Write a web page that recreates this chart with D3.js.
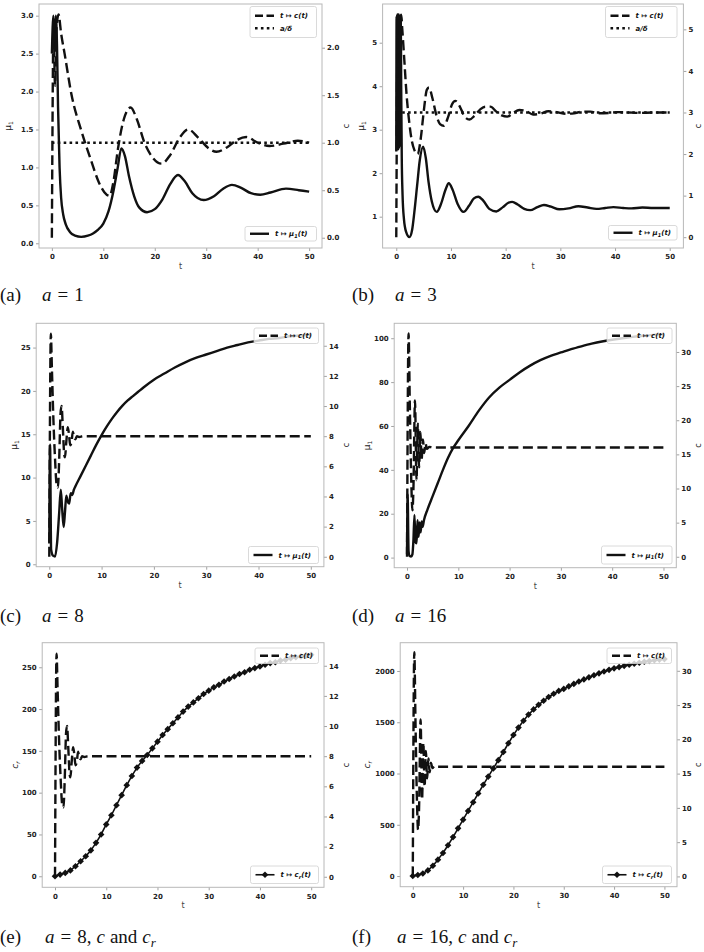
<!DOCTYPE html>
<html>
<head>
<meta charset="utf-8">
<script src="https://cdn.jsdelivr.net/npm/d3@7"></script>
<style>
  body { margin: 0; background: #fff; }
  svg { display: block; }
</style>
</head>
<body>
<svg id="fig" width="704" height="952"></svg>
<script>
// ---- values ----
const xTicks = [0, 10, 20, 30, 40, 50];
const tRatio = [0, 50];

// (a) a = 1
const tMuA = [0,0.3,0.55,0.75,1.0,1.2,1.5,1.8,2.2,2.7,3.5,4.5,5.7,7,8,9,10,11,12,12.8,13.5,14.2,15,16,17,18.5,20,21.5,23,24.5,25.8,27.3,29.5,31.5,33.3,35,36.8,38.7,40.5,42.5,45.5,48,50];
const muA  = [2.5,3.0,2.55,3.0,2.6,1.8,1.0,0.6,0.38,0.25,0.15,0.1,0.085,0.1,0.13,0.18,0.26,0.42,0.7,1.0,1.25,1.15,0.88,0.62,0.47,0.41,0.45,0.58,0.78,0.9,0.82,0.66,0.57,0.62,0.72,0.77,0.73,0.66,0.64,0.67,0.72,0.70,0.68];
const tCA  = [0,0.35,0.6,0.9,1.3,1.8,2.5,3.8,5.7,7.65,9,10.2,11.2,12,12.8,14,15.3,16.5,18,19.5,21.3,23,24.8,26.5,28.5,30.5,32,34,36,37.8,40,42.3,45,47.8,50];
const cA   = [0,2.3,1.6,2.2,2.35,2.15,1.93,1.51,1.13,0.81,0.6,0.48,0.44,0.6,0.92,1.25,1.37,1.25,1.0,0.85,0.78,0.87,1.05,1.14,1.05,0.94,0.905,0.95,1.03,1.06,1.0,0.965,0.99,1.02,1.0];
const ratioA = [1, 1];

// (b) a = 3
const tMuB = [0,0.06,0.12,0.18,0.25,0.32,0.4,0.48,0.56,0.64,0.72,0.82,0.9,1.0,1.15,1.4,1.8,2.4,2.9,3.3,3.8,4.3,4.9,5.4,5.9,6.5,7.4,8.2,9,9.6,10.3,11.2,12.3,13.3,14.2,15,15.9,17,18.3,19.5,20.5,21.2,22.2,23.4,24.5,25.8,27,28.3,29.8,31.5,33.3,35,36.6,38.2,39.7,41.5,43,45,47,50];
const muB  = [2.5,5.6,2.6,5.65,2.55,5.65,2.55,5.65,2.6,5.6,2.7,5.6,4.0,2.4,1.5,0.95,0.65,0.53,0.7,1.1,1.7,2.3,2.61,2.35,1.8,1.35,1.11,1.3,1.62,1.77,1.62,1.3,1.11,1.25,1.42,1.46,1.37,1.18,1.12,1.22,1.32,1.34,1.28,1.18,1.15,1.22,1.27,1.23,1.17,1.19,1.24,1.21,1.18,1.2,1.22,1.2,1.19,1.21,1.2,1.2];
const tCB  = [0,0.3,0.6,0.9,1.1,1.5,1.9,2.3,2.8,3.3,3.9,4.5,5.0,5.6,6.0,6.6,7.3,8.0,8.7,9.5,10.2,10.8,11.6,12.5,13.4,14.3,15.4,16.3,17.2,18.3,19.3,20.3,21.3,22.5,23.7,25,26.3,27.8,29.3,31,32.5,34,35.5,37,39,40.5,42.5,44.5,47,50];
const cB   = [0,5.35,5.2,5.35,5.0,4.2,3.4,2.85,2.35,2.1,2.0,2.4,3.0,3.55,3.6,3.35,2.95,2.72,2.68,2.9,3.2,3.28,3.15,2.9,2.83,2.92,3.08,3.14,3.14,3.02,2.93,2.9,2.98,3.06,3.04,2.95,2.97,3.03,3.01,2.97,2.98,3.02,3.02,2.98,2.99,3.01,3.0,2.99,3.0,3.0];
const ratioB = [3, 3];

// c(t) for a = 8, shared by (c) and (e)
const tC8 = [0,0.3,0.5,0.8,1.1,1.4,1.65,1.9,2.15,2.35,2.6,2.85,3.0,3.25,3.55,3.8,4.0,4.25,4.5,4.75,5.0,5.3,5.7,6.5,50];
const c8  = [0,14.8,12.5,9,6.5,4.8,4.6,6.5,9.5,10.0,8.5,6.8,6.6,7.6,8.6,8.0,7.4,7.6,8.3,7.9,7.8,8.0,7.95,8.0,8.0];

// (c) mu_1 for a = 8
const tMuC = [0,0.15,0.35,0.7,1.1,1.5,1.9,2.2,2.45,2.75,3.0,3.25,3.5,3.8,4.1,4.4,4.7,5,6,7,8,9,10,11,12,13,14,15,16,17,18,20,22,24,26,28,30,32,34,36,38,40,42,44,46,48,50];
const muC  = [2.4,13.8,1.7,1.0,0.9,2.5,6.0,8.6,6.5,4.3,6.0,7.9,7.3,7.0,8.2,8.0,8.6,9.0,10.2,11.4,12.6,13.8,14.9,15.9,16.8,17.6,18.3,18.9,19.4,19.9,20.4,21.3,22.0,22.7,23.3,23.8,24.2,24.6,25.0,25.3,25.6,25.8,26.0,26.1,26.3,26.4,26.5];

// c(t) for a = 16, shared by (d) and (f)
const tC16 = [0,0.3,0.55,0.8,1.05,1.25,1.55,1.85,2.1,2.35,2.6,2.85,3.1,3.35,3.6,3.9,4.3,5,50];
const c16  = [0,32.7,22,12,6.8,10,22.9,11.2,19.5,13.1,18.3,14.3,17.2,15.2,16.6,15.8,16.1,16.0,16.0];

// (d) mu_1 for a = 16
const tMuD = [0,0.12,0.3,0.5,0.8,1.05,1.25,1.45,1.65,1.85,2.05,2.25,2.45,2.65,2.85,3.05,3.3,4,5,6,7,8,9,10,12,14,16,18,20,22,24,26,28,30,32,34,36,38,40,42,44,46,48,50];
const muD  = [1.5,29,3,0.8,0.5,1.5,8,19.5,7,6.5,17,9.5,16,11.5,16.5,14,17,22,28,34,40,45.5,50,53.5,60,67,73,77.5,81,84.5,87.5,90,92,93.5,95,96.3,97.5,98.5,99.3,100,100.6,101.1,101.5,101.8];

// c_r(t), one marker per time unit
const tCr = [0,1,2,3,4,5,6,7,8,9,10,11,12,13,14,15,16,17,18,19,20,21,22,23,24,25,26,27,28,29,30,31,32,33,34,35,36,37,38,39,40,41,42,43,44,45,46,47,48,49,50];
const crA8  = [0,2,4,7,12,18,24,31,40,50,62,73,85,97,109,120,130,138,145,153,161,169,176,183,190,197,203,208,213,218,222,226,229,233,236,239,242,244,247,249,251,253,255,256,258,259,261,262,263,264,265];
const crA16 = [0,10,25,55,100,160,225,300,380,465,550,635,720,805,890,970,1050,1130,1210,1295,1376,1448,1515,1575,1625,1670,1710,1746,1778,1806,1825,1850,1874,1897,1918,1938,1958,1977,1995,2011,2026,2038,2050,2061,2071,2081,2090,2098,2105,2111,2116];

// ---- panel layout ----
const panels = [
  { box: [39, 4, 322, 248], yL: [-0.062, 3.154], yR: [-0.108, 2.46],
    ticksL: [0, 0.5, 1, 1.5, 2, 2.5, 3], fmtL: '.1f', ticksR: [0, 0.5, 1, 1.5, 2], fmtR: '.1f',
    labL: ['μ', '1'], labLx: 8, labRx: 346.5,
    left:  [{ t: tMuA, v: muA, kind: 'solid' }],
    right: [{ t: tCA, v: cA, kind: 'dashed' }, { t: tRatio, v: ratioA, kind: 'dotted' }],
    legL: { x: 245, y: 226.5, w: 71.5, h: 14.5, items: [['solid', 'mu']] },
    legR: { x: 250, y: 6.5, w: 66.5, h: 31, items: [['dashed', 'c'], ['dotted', 'ratio']] },
    cap: { x: 0, y: 301, tag: '(a)', mx: 42, kind: 'a', val: '1' } },
  { box: [382.6, 4, 683.4, 248], yL: [0.28, 5.89], yR: [-0.26, 5.61],
    ticksL: [1, 2, 3, 4, 5], fmtL: 'd', ticksR: [0, 1, 2, 3, 4, 5], fmtR: 'd',
    labL: ['μ', '1'], labLx: 361, labRx: 698.5,
    left:  [{ t: tMuB, v: muB, kind: 'solid' }],
    right: [{ t: tCB, v: cB, kind: 'dashed' }, { t: tRatio, v: ratioB, kind: 'dotted' }],
    legL: { x: 608.5, y: 225.5, w: 68.5, h: 14.5, items: [['solid', 'mu']] },
    legR: { x: 605.5, y: 6.5, w: 71.5, h: 31, items: [['dashed', 'c'], ['dotted', 'ratio']] },
    cap: { x: 352, y: 301, tag: '(b)', mx: 395, kind: 'a', val: '3' } },
  { box: [36.2, 323.3, 323.9, 566.7], yL: [-0.28, 27.8], yR: [-0.66, 15.49],
    ticksL: [0, 5, 10, 15, 20, 25], fmtL: 'd', ticksR: [0, 2, 4, 6, 8, 10, 12, 14], fmtR: 'd',
    labL: ['μ', '1'], labLx: 13.5, labRx: 346.5,
    left:  [{ t: tMuC, v: muC, kind: 'solid' }],
    right: [{ t: tC8, v: c8, kind: 'dashed' }],
    legL: { x: 248.5, y: 546.5, w: 70, h: 17, items: [['solid', 'mu']] },
    legR: { x: 254, y: 328, w: 64.5, h: 15.5, items: [['dashed', 'c']] },
    cap: { x: 0, y: 622, tag: '(c)', mx: 42, kind: 'a', val: '8' } },
  { box: [394.2, 323.3, 676.3, 567.7], yL: [-4.6, 106.8], yR: [-1.6, 34.2],
    ticksL: [0, 20, 40, 60, 80, 100], fmtL: 'd', ticksR: [0, 5, 10, 15, 20, 25, 30], fmtR: 'd',
    labL: ['μ', '1'], labLx: 367, labRx: 698.5,
    left:  [{ t: tMuD, v: muD, kind: 'solid' }],
    right: [{ t: tC16, v: c16, kind: 'dashed' }],
    legL: { x: 601.5, y: 546, w: 70.5, h: 18, items: [['solid', 'mu']] },
    legR: { x: 607, y: 328, w: 65, h: 15.5, items: [['dashed', 'c']] },
    cap: { x: 352, y: 622, tag: '(d)', mx: 395, kind: 'a', val: '16' } },
  { box: [42.2, 642.7, 324, 887.3], yL: [-13.2, 279.4], yR: [-0.7, 15.53],
    ticksL: [0, 50, 100, 150, 200, 250], fmtL: 'd', ticksR: [0, 2, 4, 6, 8, 10, 12, 14], fmtR: 'd',
    labL: ['c', 'r'], labLx: 15, labRx: 346.5,
    left:  [{ t: tCr, v: crA8, kind: 'marker' }],
    right: [{ t: tC8, v: c8, kind: 'dashed' }],
    legL: { x: 250.5, y: 866, w: 68, h: 17.5, items: [['marker', 'cr']] },
    legR: { x: 255, y: 648, w: 63.5, h: 15.5, items: [['dashed', 'c']] },
    cap: { x: 0, y: 943, tag: '(e)', mx: 45, kind: 'ac', val: '8' } },
  { box: [400.2, 642.7, 677, 886.7], yL: [-104, 2276], yR: [-1.5, 34.1],
    ticksL: [0, 500, 1000, 1500, 2000], fmtL: 'd', ticksR: [0, 5, 10, 15, 20, 25, 30], fmtR: 'd',
    labL: ['c', 'r'], labLx: 367, labRx: 698.5,
    left:  [{ t: tCr, v: crA16, kind: 'marker' }],
    right: [{ t: tC16, v: c16, kind: 'dashed' }],
    legL: { x: 602.5, y: 866, w: 69, h: 17.5, items: [['marker', 'cr']] },
    legR: { x: 607, y: 648, w: 64.5, h: 15.5, items: [['dashed', 'c']] },
    cap: { x: 352, y: 943, tag: '(f)', mx: 397, kind: 'ac', val: '16' } }
];

const INK = '#111';
const STYLE = {
  solid:  { w: 2.4, dash: null },
  dashed: { w: 2.4, dash: '10,4.5' },
  dotted: { w: 2.5, dash: '2.6,3.3' },
  marker: { w: 1.6, dash: null }
};
const SANS = 'DejaVu Sans, sans-serif';
const SERIF = 'Liberation Serif, serif';
// filled marker: square turned 45 degrees
const markerPath = d3.symbol(d3.symbolSquare, 22)();

const svg = d3.select('#fig');

function addAxis(g, axis, tx, ty) {
  const a = g.append('g').attr('transform', `translate(${tx},${ty})`).call(axis);
  a.select('.domain').remove();
  a.selectAll('.tick line').attr('stroke', '#8a8a8a').attr('stroke-width', 0.8);
  a.selectAll('.tick text')
    .attr('font-family', SANS).attr('font-weight', 'bold')
    .attr('font-size', 7).attr('fill', '#222');
}

function drawSeries(g, s, xS, yS) {
  const st = STYLE[s.kind];
  const path = d3.line()
    .x((d, i) => xS(s.t[i]))
    .y(d => yS(d))
    .curve(s.kind === 'marker' ? d3.curveLinear : d3.curveMonotoneX);
  g.append('path')
    .attr('d', path(s.v))
    .attr('fill', 'none')
    .attr('stroke', INK)
    .attr('stroke-width', st.w)
    .attr('stroke-dasharray', st.dash)
    .attr('stroke-linejoin', 'round');
  if (s.kind === 'marker') {
    g.selectAll(null).data(s.v).enter().append('path')
      .attr('d', markerPath)
      .attr('transform', (d, i) => `translate(${xS(s.t[i])},${yS(d)}) rotate(45)`)
      .attr('fill', INK);
  }
}

function legendLabel(txt, key) {
  txt.attr('font-family', SANS).attr('font-weight', 'bold').attr('font-style', 'italic')
    .attr('font-size', 7).attr('fill', INK);
  if (key === 'ratio') { txt.text('a/δ'); return; }
  txt.append('tspan').text('t ↦ ');
  if (key === 'c')  txt.append('tspan').text('c(t)');
  if (key === 'mu') {
    txt.append('tspan').text('μ');
    txt.append('tspan').attr('font-size', 5).attr('dy', 1.5).text('1');
    txt.append('tspan').attr('dy', -1.5).text('(t)');
  }
  if (key === 'cr') {
    txt.append('tspan').text('c');
    txt.append('tspan').attr('font-size', 5).attr('dy', 1.5).text('r');
    txt.append('tspan').attr('dy', -1.5).text('(t)');
  }
}

function drawLegend(g, L) {
  g.append('rect')
    .attr('x', L.x).attr('y', L.y).attr('width', L.w).attr('height', L.h)
    .attr('rx', 2).attr('fill', '#fff').attr('fill-opacity', 0.8)
    .attr('stroke', '#d0d0d0').attr('stroke-width', 0.8);
  const n = L.items.length;
  const rowH = (L.h - 6) / n;
  L.items.forEach(([kind, key], i) => {
    const cy = L.y + 3 + rowH * (i + 0.5);
    const x0 = L.x + 5, x1 = L.x + 24;
    const st = STYLE[kind];
    g.append('line')
      .attr('x1', x0).attr('x2', x1).attr('y1', cy).attr('y2', cy)
      .attr('stroke', INK).attr('stroke-width', st.w)
      .attr('stroke-dasharray', kind === 'dashed' ? '8,3.5' : st.dash);
    if (kind === 'marker') {
      g.append('path').attr('d', markerPath)
        .attr('transform', `translate(${(x0 + x1) / 2},${cy}) rotate(45)`).attr('fill', INK);
    }
    legendLabel(g.append('text').attr('x', L.x + 30).attr('y', cy + 2.5), key);
  });
}

function drawCaption(c) {
  const t = svg.append('text').attr('x', c.x).attr('y', c.y)
    .attr('font-family', SERIF).attr('font-size', 19).attr('fill', '#111');
  t.append('tspan').text(c.tag);
  t.append('tspan').attr('x', c.mx).attr('font-style', 'italic').text('a');
  t.append('tspan').attr('dx', 6).text('=');
  if (c.kind === 'a') {
    t.append('tspan').attr('dx', 6).text(c.val);
  } else {
    t.append('tspan').attr('dx', 6).text(c.val + ',');
    t.append('tspan').attr('dx', 5).attr('font-style', 'italic').text('c');
    t.append('tspan').attr('dx', 5).text('and');
    t.append('tspan').attr('dx', 5).attr('font-style', 'italic').text('c');
    t.append('tspan').attr('font-style', 'italic').attr('font-size', 13).attr('dy', 4).text('r');
  }
}

panels.forEach((p, k) => {
  const [x0, y0, x1, y1] = p.box;
  const g = svg.append('g');
  const x  = d3.scaleLinear().domain([-2.5, 52.5]).range([x0, x1]);
  const yL = d3.scaleLinear().domain(p.yL).range([y1, y0]);
  const yR = d3.scaleLinear().domain(p.yR).range([y1, y0]);

  const clipId = 'clip' + k;
  svg.append('clipPath').attr('id', clipId).append('rect')
    .attr('x', x0).attr('y', y0).attr('width', x1 - x0).attr('height', y1 - y0);

  // axes
  addAxis(g, d3.axisBottom(x).tickValues(xTicks).tickSize(3).tickPadding(3.5).tickFormat(d3.format('d')), 0, y1);
  addAxis(g, d3.axisLeft(yL).tickValues(p.ticksL).tickSize(3).tickPadding(2.5).tickFormat(d3.format(p.fmtL)), x0, 0);
  addAxis(g, d3.axisRight(yR).tickValues(p.ticksR).tickSize(3).tickPadding(2).tickFormat(d3.format(p.fmtR)), x1, 0);

  // axis labels
  const midY = (y0 + y1) / 2;
  const ll = g.append('text').attr('transform', `translate(${p.labLx},${midY}) rotate(-90)`)
    .attr('text-anchor', 'middle').attr('dy', '0.35em')
    .attr('font-family', SANS).attr('font-size', 9).attr('fill', '#222')
    .attr('font-style', p.labL[0] === 'c' ? 'italic' : 'normal');
  ll.append('tspan').text(p.labL[0]);
  ll.append('tspan').attr('font-size', 6).attr('dy', 2).text(p.labL[1]);
  g.append('text').attr('transform', `translate(${p.labRx},${midY}) rotate(-90)`)
    .attr('text-anchor', 'middle').attr('dy', '0.35em')
    .attr('font-family', SANS).attr('font-size', 8).attr('fill', '#222').text('c');
  g.append('text').attr('x', (x0 + x1) / 2).attr('y', y1 + 21)
    .attr('text-anchor', 'middle')
    .attr('font-family', SANS).attr('font-size', 8).attr('fill', '#444').text('t');

  // left-axis series and their legend, then the twin axis on top
  const gl = g.append('g').attr('clip-path', `url(#${clipId})`);
  p.left.forEach(s => drawSeries(gl, s, x, yL));
  drawLegend(g, p.legL);
  const gr = g.append('g').attr('clip-path', `url(#${clipId})`);
  p.right.forEach(s => drawSeries(gr, s, x, yR));
  drawLegend(g, p.legR);

  // frame
  g.append('rect').attr('x', x0).attr('y', y0).attr('width', x1 - x0).attr('height', y1 - y0)
    .attr('fill', 'none').attr('stroke', '#b8b8b8').attr('stroke-width', 1);

  drawCaption(p.cap);
});
</script>
</body>
</html>
